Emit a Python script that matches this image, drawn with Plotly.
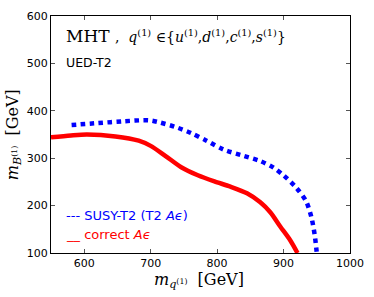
import plotly.graph_objects as go

# SUSY-T2 (blue dotted)
susy_x = [581, 620, 660, 697, 712, 737, 761, 784, 810, 840, 865, 885, 900, 919, 934, 942, 947, 950]
susy_y = [370, 374, 378, 380, 376, 366, 353, 337, 318, 305, 294, 280, 264, 238, 209, 175, 137, 100]

# correct A-eps (red solid)
corr_x = [550, 580, 604, 647, 682, 700, 722, 746, 771, 796, 820, 845, 865, 880, 895, 910, 921]
corr_y = [344, 348, 350, 346, 337, 326, 305, 281, 264, 251, 240, 226, 207, 186, 156, 127, 100]

x_ticks = [600, 700, 800, 900, 1000]
y_ticks = [100, 200, 300, 400, 500, 600]

fig = go.Figure()
fig.add_trace(go.Scatter(x=susy_x, y=susy_y, mode="lines",
                         line=dict(color="#0000ff", width=4.5, dash="dot", shape="spline", smoothing=0.8),
                         showlegend=False))
fig.add_trace(go.Scatter(x=corr_x, y=corr_y, mode="lines",
                         line=dict(color="#ff0000", width=4.5, shape="spline", smoothing=0.8),
                         showlegend=False))

axis_common = dict(showgrid=False, zeroline=False, ticks="inside", ticklen=4, tickwidth=1,
                   tickcolor="#555", linecolor="black", linewidth=1, mirror="ticks",
                   showline=True, tickfont=dict(family="DejaVu Sans", size=11, color="black"))
fig.update_xaxes(range=[550, 1000], tickvals=x_ticks, **axis_common)
fig.update_yaxes(range=[100, 600], tickvals=y_ticks, **axis_common)

serif = "DejaVu Serif"
fig.add_annotation(xref="paper", yref="paper", x=0.045, y=0.915, xanchor="left", yanchor="middle",
                   showarrow=False,
                   text="MHT <span style='font-size:14px'>,  <i>q</i><sup>(1)</sup> ∈{<i>u</i><sup>(1)</sup>,<i>d</i><sup>(1)</sup>,<i>c</i><sup>(1)</sup>,<i>s</i><sup>(1)</sup>}</span>",
                   font=dict(family=serif, size=17, color="black"))
fig.add_annotation(xref="paper", yref="paper", x=0.045, y=0.805, xanchor="left", yanchor="middle",
                   showarrow=False, text="UED-T2",
                   font=dict(family="DejaVu Sans", size=12.5, color="black"))
fig.add_annotation(xref="paper", yref="paper", x=0.045, y=0.16, xanchor="left", yanchor="middle",
                   showarrow=False, text="--- SUSY-T2 (T2 <i>Aϵ</i>)",
                   font=dict(family="DejaVu Sans", size=13, color="#0000ff"))
fig.add_annotation(xref="paper", yref="paper", x=0.045, y=0.078, xanchor="left", yanchor="middle",
                   showarrow=False, text="__ correct <i>Aϵ</i>",
                   font=dict(family="DejaVu Sans", size=13, color="#ff0000"))
fig.add_annotation(xref="paper", yref="paper", x=0.495, y=-0.118, xanchor="center", yanchor="middle",
                   showarrow=False, text="<i>m</i><sub><i>q</i><sup>(1)</sup></sub>  [GeV]",
                   font=dict(family=serif, size=16, color="black"))
fig.add_annotation(xref="paper", yref="paper", x=-0.125, y=0.5, xanchor="center", yanchor="middle",
                   showarrow=False, textangle=-90,
                   text="<i>m</i><sub><i>B</i><sup>(1)</sup></sub>  [GeV]",
                   font=dict(family=serif, size=16, color="black"))

fig.update_layout(width=374, height=297, margin=dict(l=51, r=20, t=10, b=44),
                  plot_bgcolor="white", paper_bgcolor="white")
fig.write_html("out.html", config={"displayModeBar": False},
               post_script="document.body.style.margin='0';document.body.style.overflow='hidden';")
